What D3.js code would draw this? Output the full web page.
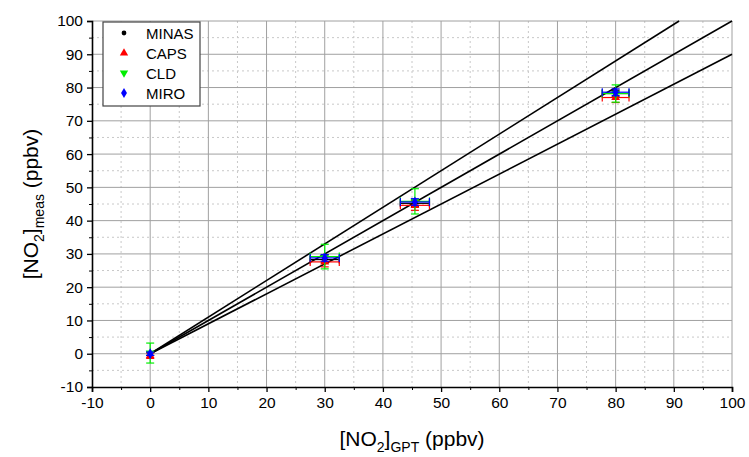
<!DOCTYPE html>
<html>
<head>
<meta charset="utf-8">
<script src="https://cdn.jsdelivr.net/npm/d3@7"></script>
<style>
  body { margin: 0; background: #fff; }
  text { font-family: "Liberation Sans", Arial, sans-serif; }
</style>
</head>
<body>
<div id="chart"></div>
<script>
// instruments and their readings at each GPT step
var instruments = ["MINAS", "CAPS", "CLD", "MIRO"];
var colors = ["#000000", "#ff0000", "#00ee00", "#0000ff"];
var symbols = [d3.symbolCircle, d3.symbolTriangle, d3.symbolTriangle, d3.symbolDiamond];

var gptValues = [0, 30, 45.5, 80];
var gptErr = [0, 2.5, 2.5, 2.3];

var minasMeas = [0, 28.3, 45.2, 78.2];
var capsMeas = [-0.6, 27.6, 44.6, 77.0];
var cldMeas = [0.2, 29.2, 45.8, 78.2];
var miroMeas = [0, 28.8, 45.6, 78.6];

var minasErr = [0.5, 1.0, 1.0, 1.0];
var capsErr = [0.8, 1.5, 1.5, 1.5];
var cldErr = [3.0, 3.7, 3.8, 2.6];
var miroErr = [0.5, 1.0, 1.0, 1.0];

// reference lines through origin
var slopes = [1.1, 1.0, 0.9];

var xTicks = [-10, 0, 10, 20, 30, 40, 50, 60, 70, 80, 90, 100];
var yTicks = [-10, 0, 10, 20, 30, 40, 50, 60, 70, 80, 90, 100];

var svgWidth = 749, svgHeight = 457;
var margin = { top: 21, left: 92, right: 17, bottom: 70 };
var chartWidth = svgWidth - margin.left - margin.right;
var chartHeight = svgHeight - margin.top - margin.bottom;

var svg = d3.select("#chart").append("svg")
  .attr("width", svgWidth)
  .attr("height", svgHeight);

var g = svg.append("g")
  .attr("transform", `translate(${margin.left}, ${margin.top})`);

var xScale = d3.scaleLinear().domain([-10, 100]).range([0, chartWidth]);
var yScale = d3.scaleLinear().domain([-10, 100]).range([chartHeight, 0]);

// minor grid (dotted) at the 5s
var minor = d3.range(-5, 100, 10);
g.selectAll(".minorX").data(minor).enter().append("line")
  .attr("x1", d => xScale(d)).attr("x2", d => xScale(d))
  .attr("y1", 0).attr("y2", chartHeight)
  .attr("stroke", "#c8c8c8").attr("stroke-dasharray", "2,3");
g.selectAll(".minorY").data(minor).enter().append("line")
  .attr("y1", d => yScale(d)).attr("y2", d => yScale(d))
  .attr("x1", 0).attr("x2", chartWidth)
  .attr("stroke", "#c8c8c8").attr("stroke-dasharray", "2,3");

// major grid
g.selectAll(".majorX").data(xTicks.slice(1)).enter().append("line")
  .attr("x1", d => xScale(d)).attr("x2", d => xScale(d))
  .attr("y1", 0).attr("y2", chartHeight)
  .attr("stroke", "#a0a0a0").attr("stroke-width", 1);
g.selectAll(".majorY").data(yTicks.slice(1)).enter().append("line")
  .attr("y1", d => yScale(d)).attr("y2", d => yScale(d))
  .attr("x1", 0).attr("x2", chartWidth)
  .attr("stroke", "#a0a0a0").attr("stroke-width", 1);

// axes
var fmt = d => String(d);
var xAxis = d3.axisBottom(xScale).tickValues(xTicks).tickSize(5).tickPadding(5).tickFormat(fmt);
var yAxis = d3.axisLeft(yScale).tickValues(yTicks).tickSize(5).tickPadding(4).tickFormat(fmt);
var xMinor = d3.axisBottom(xScale).tickValues(minor).tickSize(3).tickFormat("");
var yMinor = d3.axisLeft(yScale).tickValues(minor).tickSize(3).tickFormat("");

g.append("g").attr("transform", `translate(0, ${chartHeight})`).call(xMinor);
g.append("g").call(yMinor);
var xg = g.append("g").attr("transform", `translate(0, ${chartHeight})`).call(xAxis);
var yg = g.append("g").call(yAxis);
[xg, yg].forEach(function(a) {
  a.selectAll("text").style("font-size", "15.5px").attr("fill", "#000");
  a.select(".domain").attr("stroke-width", 1.6);
  a.selectAll("line").attr("stroke-width", 1.3);
});
g.selectAll(".domain").attr("stroke", "#000");

// reference lines
slopes.forEach(function(s) {
  var xEnd = Math.min(100, 100 / s);
  g.append("line")
    .attr("x1", xScale(0)).attr("y1", yScale(0))
    .attr("x2", xScale(xEnd)).attr("y2", yScale(s * xEnd))
    .attr("stroke", "#000").attr("stroke-width", 1.6);
});

// measurements
var measSeries = [minasMeas, capsMeas, cldMeas, miroMeas];
var errSeries = [minasErr, capsErr, cldErr, miroErr];
var cap = 4;

measSeries.forEach(function(series, i) {
  var pts = gptValues.map((x, j) => ({ x: x, y: series[j], ex: gptErr[j], ey: errSeries[i][j] }));
  var grp = g.append("g").attr("stroke", colors[i]).attr("stroke-width", 1.2);
  pts.forEach(function(p) {
    var cx = xScale(p.x), cy = yScale(p.y);
    if (p.ex > 0) {
      var xl = xScale(p.x - p.ex), xr = xScale(p.x + p.ex);
      grp.append("line").attr("x1", xl).attr("x2", xr).attr("y1", cy).attr("y2", cy);
      grp.append("line").attr("x1", xl).attr("x2", xl).attr("y1", cy - cap).attr("y2", cy + cap);
      grp.append("line").attr("x1", xr).attr("x2", xr).attr("y1", cy - cap).attr("y2", cy + cap);
    }
    var yt = yScale(p.y + p.ey), yb = yScale(p.y - p.ey);
    grp.append("line").attr("x1", cx).attr("x2", cx).attr("y1", yt).attr("y2", yb);
    grp.append("line").attr("x1", cx - cap).attr("x2", cx + cap).attr("y1", yt).attr("y2", yt);
    grp.append("line").attr("x1", cx - cap).attr("x2", cx + cap).attr("y1", yb).attr("y2", yb);
  });
  g.selectAll(".pt" + i).data(pts).enter().append("path")
    .attr("d", d3.symbol().type(symbols[i]).size(i === 0 ? 22 : 34))
    .attr("transform", d => `translate(${xScale(d.x)}, ${yScale(d.y)})` + (i === 2 ? " rotate(180)" : ""))
    .attr("fill", colors[i]);
});

// legend
var legend = svg.append("g").attr("transform", "translate(103, 22)");
legend.append("rect")
  .attr("width", 97).attr("height", 84)
  .attr("fill", "#fff").attr("stroke", "#444").attr("stroke-width", 1.2);
instruments.forEach(function(name, i) {
  var row = legend.append("g").attr("transform", `translate(0, ${11 + i * 20})`);
  row.append("path")
    .attr("d", d3.symbol().type(symbols[i]).size(i === 0 ? 18 : 30))
    .attr("transform", "translate(21, 0)" + (i === 2 ? " rotate(180)" : ""))
    .attr("fill", colors[i]);
  row.append("text").attr("x", 43).attr("y", 5.5)
    .style("font-size", "15px").text(name);
});

// axis titles
var xTitle = svg.append("text")
  .attr("x", margin.left + xScale(45)).attr("y", 446)
  .attr("text-anchor", "middle").style("font-size", "21px");
xTitle.append("tspan").text("[NO");
xTitle.append("tspan").attr("dy", 6).style("font-size", "14px").text("2");
xTitle.append("tspan").attr("dy", -6).text("]");
xTitle.append("tspan").attr("dy", 6).style("font-size", "14px").text("GPT");
xTitle.append("tspan").attr("dy", -6).text(" (ppbv)");

var yTitle = svg.append("text")
  .attr("transform", `translate(38, ${margin.top + yScale(45)}) rotate(-90)`)
  .attr("text-anchor", "middle").style("font-size", "21px");
yTitle.append("tspan").text("[NO");
yTitle.append("tspan").attr("dy", 6).style("font-size", "14px").text("2");
yTitle.append("tspan").attr("dy", -6).text("]");
yTitle.append("tspan").attr("dy", 6).style("font-size", "14px").text("meas");
yTitle.append("tspan").attr("dy", -6).text(" (ppbv)");
</script>
</body>
</html>
